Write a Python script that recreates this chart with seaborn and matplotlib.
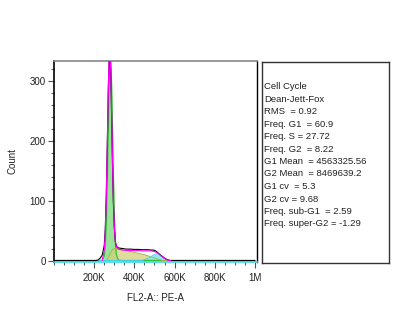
import matplotlib
matplotlib.use("Agg")
import matplotlib.pyplot as plt
from matplotlib.ticker import MultipleLocator, FixedLocator
import numpy as np
import pandas as pd
import seaborn as sns

# FL2-A channel positions (thousands)
fl2_k = [0, 200, 210, 220, 230, 240, 250, 255, 260, 265, 270, 273, 276, 279, 282,
         285, 290, 295, 300, 305, 310, 320, 340, 360, 380, 400, 420, 440, 460,
         470, 480, 490, 500, 510, 520, 530, 540, 550, 560, 570, 580, 600, 1000]

# Measured histogram counts
counts = [0, 0, 0, 1, 4, 9, 25, 52, 108, 192, 283, 322, 342, 338, 312,
          268, 178, 100, 55, 32, 24, 21, 20, 19, 19, 18.5, 18.5, 18, 18,
          18, 17.5, 17.5, 17, 15, 12, 9, 6.5, 4, 2, 0.5, 0, 0, 0]

# Dean-Jett-Fox model curves (NaN = outside the modelled range)
nan = float("nan")
fit = [nan, nan, nan, nan, nan, 0, 17, 46, 103, 189, 283, 325, 348, 345, 320,
       276, 187, 108, 58, 33, 23, 19, 17.5, 17, 16.5, 16.5, 16.5, 16, 16,
       16, 16, 15.5, 15, 13.5, 11.5, 8.5, 6, 3.5, 1.5, 0.3, 0, nan, nan]
g1 = [0, 0, 0, 0, 0, 0.3, 6.4, 21, 55, 118, 206, 261, 307, 334, 339,
      318, 243, 151, 77, 31.5, 10.5, 0.6, 0, 0, 0, 0, 0, 0, 0,
      0, 0, 0, 0, 0, 0, 0, 0, 0, 0, 0, 0, 0, 0]
s_phase = [0, 0, 0, 0, 0, 0, 0, 0, 0, 2, 5, 7, 9, 11, 13,
           15, 17.5, 19, 20, 20, 20, 19, 18, 16.5, 15, 13.5, 12, 10.5, 8.5,
           7.5, 6.5, 5.5, 4.5, 3, 2, 1, 0.3, 0, 0, 0, 0, 0, 0]
g2 = [0, 0, 0, 0, 0, 0, 0, 0, 0, 0, 0, 0, 0, 0, 0,
      0, 0, 0, 0, 0, 0, 0, 0, 0, 0, 0, 0, 0, 2.5,
      4, 6, 8, 10, 11, 11.5, 8.5, 6, 3.5, 1.5, 0.3, 0, 0, 0]

x_ticks_k = [200, 400, 600, 800, 1000]
x_tick_labels = ["200K", "400K", "600K", "800K", "1M"]
y_ticks = [0, 100, 200, 300]

stats_lines = [
    "Cell Cycle",
    "Dean-Jett-Fox",
    "RMS  = 0.92",
    "Freq. G1  = 60.9",
    "Freq. S = 27.72",
    "Freq. G2  = 8.22",
    "G1 Mean  = 4563325.56",
    "G2 Mean  = 8469639.2",
    "G1 cv  = 5.3",
    "G2 cv = 9.68",
    "Freq. sub-G1  = 2.59",
    "Freq. super-G2 = -1.29",
]

sns.set_theme(style="ticks")
plt.rcParams["font.family"] = ["Liberation Sans", "DejaVu Sans"]
text_color = "#222222"

df = pd.DataFrame({
    "x": np.array(fl2_k) * 1000.0,
    "counts": counts,
    "fit": fit,
    "g1": g1,
    "s": s_phase,
    "g2": g2,
})

fig = plt.figure(figsize=(4.0, 3.25), dpi=100)
ax = fig.add_axes([54 / 400, 1 - 262 / 325, (257 - 54) / 400, (262 - 61) / 325])

# model components
ax.fill_between(df["x"], df["g1"], color="#8fe08f", alpha=0.9, lw=0, zorder=2)
ax.plot(df["x"], df["g1"], color="#33c133", lw=0.9, zorder=3)
ax.fill_between(df["x"], df["s"], color="#d6ce7c", alpha=0.75, lw=0, zorder=2)
ax.plot(df["x"], df["s"], color="#a8b84a", lw=0.7, zorder=3)
ax.fill_between(df["x"], df["g2"], color="#7fe6f0", alpha=0.85, lw=0, zorder=2)
ax.plot(df["x"], df["g2"], color="#40d0e0", lw=0.7, zorder=3)

# histogram and overall fit
sns.lineplot(data=df, x="x", y="counts", color="black", lw=0.8, ax=ax,
             estimator=None, sort=False, zorder=4)
sns.lineplot(data=df, x="x", y="fit", color="#ff00ff", lw=0.8, ax=ax,
             estimator=None, sort=False, zorder=5)

ax.set_xlim(0, 1.01e6)
ax.set_ylim(-2.5, 333)

ax.xaxis.set_major_locator(FixedLocator(np.array(x_ticks_k) * 1000.0))
ax.set_xticklabels(x_tick_labels)
ax.xaxis.set_minor_locator(MultipleLocator(50000))
ax.yaxis.set_major_locator(FixedLocator(y_ticks))
ax.yaxis.set_minor_locator(MultipleLocator(20))

ax.tick_params(axis="both", which="major", direction="out", length=4, width=0.8,
               color="#555555", labelsize=7, labelcolor=text_color)
ax.tick_params(axis="x", which="major", pad=4)
ax.tick_params(axis="y", which="major", pad=2)
ax.tick_params(axis="both", which="minor", direction="out", length=2.5, width=0.7,
               color="#555555")

ax.set_xlabel("FL2-A:: PE-A", fontsize=7, color=text_color, labelpad=7)
ax.set_ylabel("Count", fontsize=7, color=text_color, labelpad=9)

for side in ax.spines:
    ax.spines[side].set_visible(True)
ax.spines["top"].set_color("#888888")
ax.spines["top"].set_linewidth(1.2)
ax.spines["left"].set_color("black")
ax.spines["left"].set_linewidth(1.2)
ax.spines["right"].set_color("black")
ax.spines["right"].set_linewidth(1.0)
ax.spines["bottom"].set_color("#40d8e8")
ax.spines["bottom"].set_linewidth(1.2)

# statistics panel
box = fig.add_axes([262 / 400, 1 - 263 / 325, (389 - 262) / 400, (263 - 62) / 325])
box.set_xticks([])
box.set_yticks([])
box.set_facecolor("white")
for side in box.spines:
    box.spines[side].set_visible(True)
    box.spines[side].set_color("#333333")
    box.spines[side].set_linewidth(1.0)

for i, line in enumerate(stats_lines):
    fig.text(264.5 / 400, 1 - (86.5 + i * 12.5) / 325, line, fontsize=6.8,
             color=text_color, ha="left", va="center")

fig.savefig("out.png", dpi=100, facecolor="white")
